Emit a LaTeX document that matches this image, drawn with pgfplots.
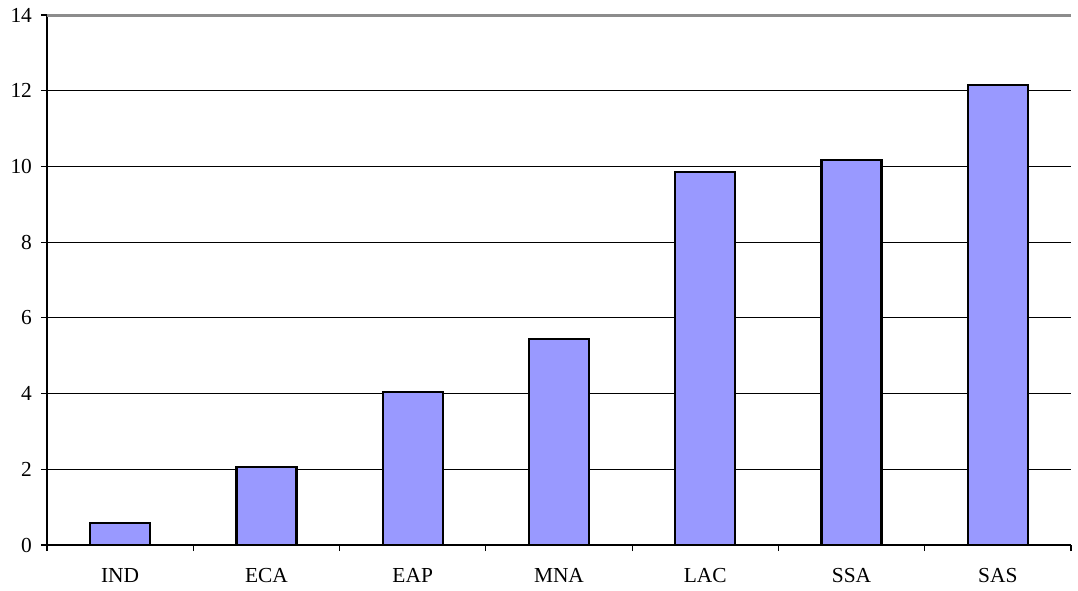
\documentclass[border=0pt]{standalone}
\usepackage{pgfplots}
\pgfplotsset{compat=1.18}
\usepackage{fontspec}
\setmainfont{Liberation Serif}
\definecolor{barblue}{HTML}{9999FF}
\begin{document}
\begin{tikzpicture}[x=1pt,y=1pt]
\useasboundingbox (-23.5,-22.5) rectangle (515.5,272.5);
\begin{axis}[
  at={(0,0)}, anchor=south west,
  scale only axis,
  width=512pt, height=265pt,
  xmin=-0.5, xmax=6.5,
  ymin=0, ymax=14,
  ytick={0,2,...,14},
  xtick={0,...,6},
  xticklabels={IND,ECA,EAP,MNA,LAC,SSA,SAS},
  minor xtick={-0.5,0.5,...,6.5},
  major x tick style={draw=none},
  minor x tick style={black, line width=0.6pt},
  minor tick length=3pt,
  y tick style={black, line width=0.6pt},
  major tick length=3pt,
  tick align=outside,
  axis x line*=bottom,
  axis y line*=left,
  axis line style={black, line width=0.8pt, -},
  ymajorgrids,
  major grid style={black, line width=0.5pt},
  tick label style={font=\fontsize{10.7}{12}\selectfont},
  /pgf/number format/assume math mode=true,
  xticklabel style={yshift=-5pt},
  yticklabel style={xshift=-1pt},
  clip=false,
]
\addplot[ybar, bar width=30pt, fill=barblue, draw=black, line width=1.2pt]
  coordinates {(0,0.58) (1,2.06) (2,4.04) (3,5.44) (4,9.85) (5,10.17) (6,12.15)};
\draw[gray!90, line width=1.5pt] (axis cs:-0.5,14) -- (axis cs:6.5,14);
\end{axis}
\end{tikzpicture}
\end{document}
